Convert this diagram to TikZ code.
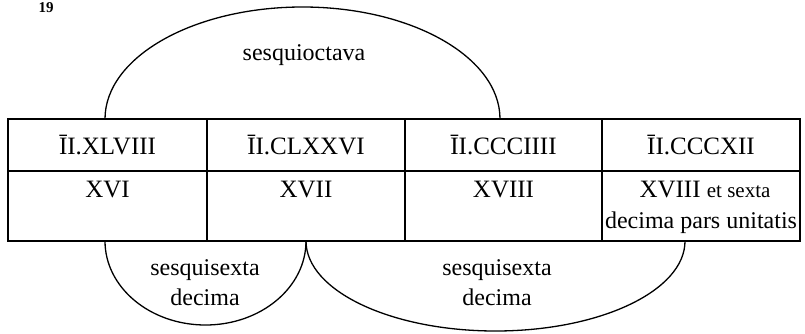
\documentclass[tikz,border=0pt]{standalone}
\usepackage{fontspec}
\setmainfont{Liberation Serif}

\tikzset{
    rule/.style={line width=1.3pt},
    numeral/.style={font=\fontsize{25}{30}\selectfont, inner sep=0pt},
    gloss/.style={font=\fontsize{24}{30}\selectfont, align=center, inner sep=0pt},
}

\begin{document}
\begin{tikzpicture}[x=1pt,y=1pt]
    \useasboundingbox (0,0) rectangle (805,333);

    % Draw Basic Box
    \draw[rule] (8,92) rectangle (800,214);
    \draw[rule] (8,162) -- (800,162);

    % Draw Column Lines
    \foreach \xc in {207, 405, 602} {
        \draw[rule] (\xc,92) -- (\xc,214);
    }

    % Page Number
    \node[font=\bfseries\fontsize{15}{18}\selectfont] (page) at (46,325) {19};

    % Top Row Values
    \node[numeral] (n1) at (107.5,188) {ĪI.XLVIII};
    \node[numeral] (n2) at (306,188) {ĪI.CLXXVI};
    \node[numeral] (n3) at (503.5,188) {ĪI.CCCIIII};
    \node[numeral] (n4) at (701,188) {ĪI.CCCXII};

    % Bottom Row Values
    \node[numeral] (m1) at (107.5,143) {XVI};
    \node[numeral] (m2) at (306,143) {XVII};
    \node[numeral] (m3) at (503.5,143) {XVIII};
    \node[numeral] (m4) at (705,143) {XVIII {\fontsize{21}{25}\selectfont et sexta}};
    \node[gloss] (m4b) at (701,110) {decima pars unitatis};

    % Arc End Points
    \coordinate (top-a) at (105,214);
    \coordinate (top-b) at (500,214);
    \coordinate (low-a) at (105,92);
    \coordinate (low-b) at (306,92);
    \coordinate (low-c) at (685,92);

    % Arcs
    \draw[rule] (top-a) arc[start angle=180, end angle=0, x radius=197.5, y radius=112];
    \draw[rule] (low-a) arc[start angle=180, end angle=360, x radius=100.5, y radius=84];
    \draw[rule] (low-b) arc[start angle=180, end angle=360, x radius=189.5, y radius=90];

    % Ratio Labels
    \node[gloss] (octava) at (304,278) {sesquioctava};
    \node[gloss] (sexta1) at (205,50) {sesquisexta\\decima};
    \node[gloss] (sexta2) at (497,50) {sesquisexta\\decima};
\end{tikzpicture}
\end{document}
